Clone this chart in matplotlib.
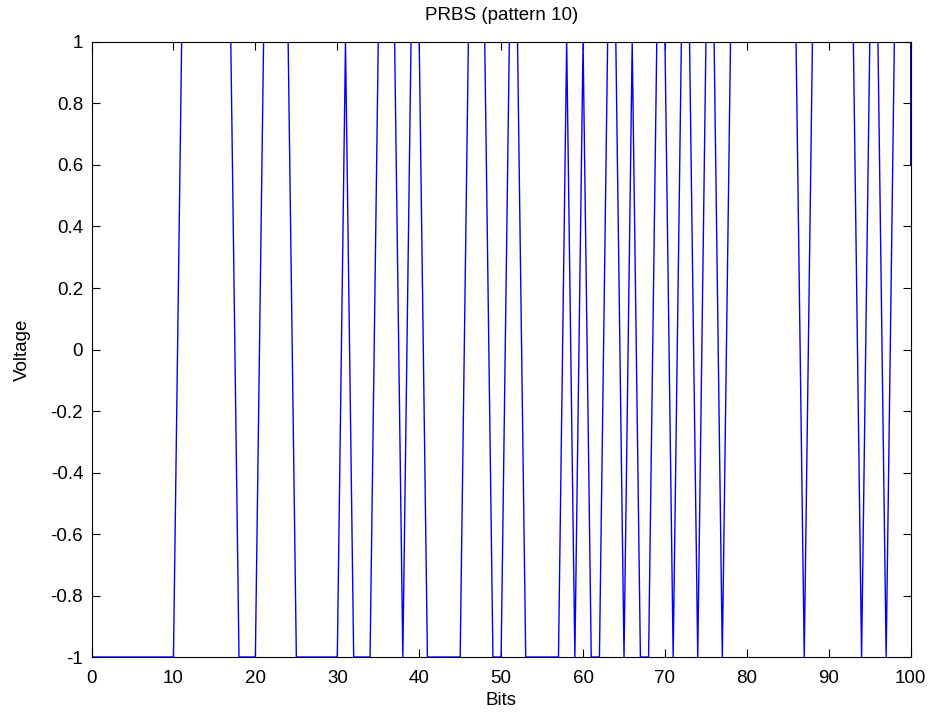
import matplotlib
matplotlib.use('Agg')
import matplotlib.pyplot as plt
import numpy as np

plt.rcParams['font.family'] = ['Liberation Sans', 'DejaVu Sans']

# bit levels at positions 0..100
bits = [-1, -1, -1, -1, -1, -1, -1, -1, -1, -1, -1,   # 0-10
        1, 1, 1, 1, 1, 1, 1,                          # 11-17
        -1, -1, -1,                                   # 18-20
        1, 1, 1, 1,                                   # 21-24
        -1, -1, -1, -1, -1, -1,                       # 25-30
        1,                                            # 31
        -1, -1, -1,                                   # 32-34
        1, 1, 1,                                      # 35-37
        -1,                                           # 38
        1, 1,                                         # 39-40
        -1, -1, -1, -1, -1,                           # 41-45
        1, 1, 1,                                      # 46-48
        -1, -1,                                       # 49-50
        1, 1,                                         # 51-52
        -1, -1, -1, -1, -1,                           # 53-57
        1, -1, 1,                                     # 58-60
        -1, -1,                                       # 61-62
        1, 1,                                         # 63-64
        -1, 1,                                        # 65-66
        -1, -1,                                       # 67-68
        1, 1,                                         # 69-70
        -1,                                           # 71
        1, 1,                                         # 72-73
        -1,                                           # 74
        1, 1,                                         # 75-76
        -1,                                           # 77
        1, 1, 1, 1, 1, 1, 1, 1, 1,                    # 78-86
        -1,                                           # 87
        1, 1, 1, 1, 1, 1,                             # 88-93
        -1,                                           # 94
        1, 1,                                         # 95-96
        -1,                                           # 97
        1, 1, 1]                                      # 98-100
tail_level = 0.6

x = np.append(np.arange(len(bits)), len(bits) - 1)
y = np.append(bits, tail_level)

fig = plt.figure(figsize=(9.36, 7.19), dpi=100)
ax = fig.add_axes([0.0978, 0.0862, 0.8752, 0.8554])
ax.plot(x, y, color='blue', linewidth=1)

ax.set_xlim(0, 100)
ax.set_ylim(-1, 1)
ax.set_xticks(np.arange(0, 101, 10))
yt = [v / 10 for v in range(-10, 11, 2)]
ax.set_yticks(yt)
ax.set_yticklabels(['%g' % v if v != 0 else '0' for v in yt])
ax.tick_params(direction='in', top=True, right=True, labelsize=13.5, length=6, width=0.8)
ax.tick_params(axis='x', pad=9)
ax.tick_params(axis='y', pad=6)
ax.set_xlabel('Bits', fontsize=13.5, labelpad=4)
ax.set_ylabel('Voltage', fontsize=13.5, labelpad=14)
ax.set_title('PRBS (pattern 10)', fontsize=13.5, pad=16)
for s in ax.spines.values():
    s.set_linewidth(0.8)

fig.savefig('out.png', dpi=100)
